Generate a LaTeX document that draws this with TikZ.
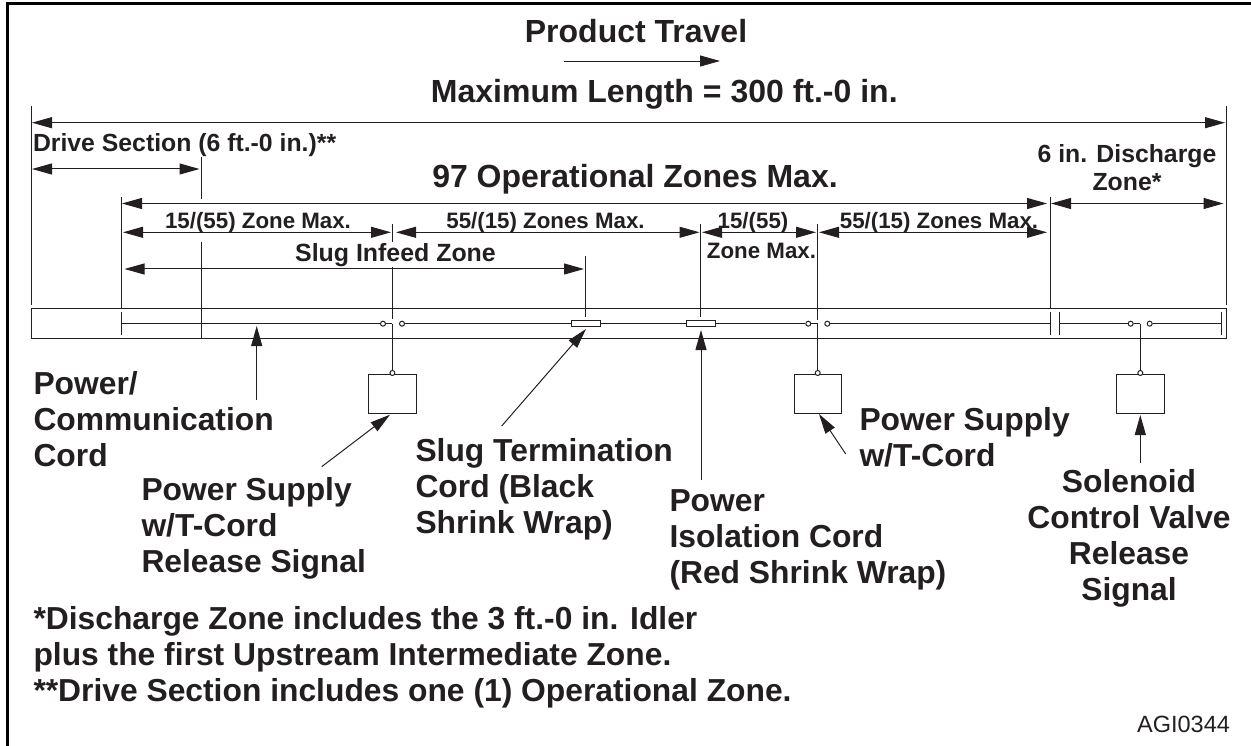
\documentclass[tikz,border=0pt]{standalone}
\usepackage{xcolor}
\usepackage{fontspec}
\setmainfont{Liberation Sans}
\usetikzlibrary{arrows.meta, positioning, calc}
\definecolor{inkblk}{HTML}{231F20}

\begin{document}
\begin{tikzpicture}[x=1pt, y=-1pt, >={Triangle[length=20pt,width=11pt]}, color=inkblk, text=inkblk, line width=1pt]
        \tikzstyle{heading} = [font=\fontsize{32}{36}\bfseries\selectfont, inner sep=0pt]
        \tikzstyle{callout} = [font=\fontsize{31.8}{36}\bfseries\selectfont, inner sep=0pt, align=left, anchor=west]
        \tikzstyle{dimlabel} = [font=\fontsize{22.3}{26}\bfseries\selectfont, inner sep=0pt, align=center]
        \tikzstyle{dim} = [<->]
        \tikzstyle{arrow} = [->]
        \tikzstyle{psubox} = [rectangle, draw, fill=white, minimum width=47.5pt, minimum height=38.5pt, inner sep=0pt]
        \tikzstyle{sleeve} = [rectangle, draw, fill=white, minimum width=29pt, minimum height=5.5pt, inner sep=0pt]
        \tikzstyle{pin} = [circle, draw, fill=white, minimum size=5pt, inner sep=0pt]

        \useasboundingbox (0,0) rectangle (1251,746);

        % Border
        \coordinate (frameBL) at (7.5,746);
        \coordinate (frameTL) at (7.5,3.3);
        \coordinate (frameTR) at (1251,3.3);
        \draw [line width=3pt, black] (frameBL) -- (frameTL) -- (frameTR);

        % Product travel
        \node (travel) [heading] at (636,31) {Product Travel};
        \coordinate (travelL) at (564,61);
        \coordinate (travelR) at (720,61);
        \draw [arrow, line width=.8pt] (travelL) -- (travelR);
        \node (maxlen) [heading] at (664.3,94.5) {Maximum Length = 300 ft.-0 in.};
        \node (drivetxt) [font=\fontsize{24.8}{28}\bfseries\selectfont, inner sep=0pt, anchor=west] at (32.5,145.5) {Drive Section (6 ft.-0 in.)**};
        \node (zonestxt) [heading] at (635,179) {97 Operational Zones Max.};
        \node (dischtxt) [font=\fontsize{24.8}{27.7}\bfseries\selectfont, inner sep=0pt, align=center] at (1127,167.5) {6 in. Discharge\\Zone*};

        % Conveyor bar and cord
        \node (bar) [rectangle, draw, minimum width=1195pt, minimum height=30.7pt, inner sep=0pt] at (628.7,323.4) {};
        \node (sleeveA) [sleeve] at (585.7,323.7) {};
        \node (sleeveB) [sleeve] at (700.7,323.7) {};
        \node (pinAl) [pin] at (383,323.7) {};
        \node (pinAr) [pin] at (402,323.7) {};
        \node (pinBl) [pin] at (808.3,323.7) {};
        \node (pinBr) [pin] at (827.3,323.7) {};
        \node (pinCl) [pin] at (1130.7,323.7) {};
        \node (pinCr) [pin] at (1149.7,323.7) {};
        \coordinate (cordL) at (121,323.7);
        \coordinate (gapL) at (1050.3,323.7);
        \coordinate (gapR) at (1059.7,323.7);
        \coordinate (cordR) at (1221,323.7);
        \coordinate (teeA) at (392.4,323.7);
        \coordinate (teeB) at (817.7,323.7);
        \coordinate (teeC) at (1140.3,323.7);
        \draw (cordL) -- (pinAl);
        \draw (pinAl) -- (teeA);
        \draw (pinAr) -- (sleeveA);
        \draw (sleeveA) -- (sleeveB);
        \draw (sleeveB) -- (pinBl);
        \draw (pinBl) -- (teeB);
        \draw (pinBr) -- (gapL);
        \draw (gapR) -- (pinCl);
        \draw (pinCl) -- (teeC);
        \draw (pinCr) -- (cordR);

        % Power supplies
        \node (psuA) [psubox] at (392.4,394.2) {};
        \node (psuB) [psubox] at (817.9,394.2) {};
        \node (psuC) [psubox] at (1140.4,394.2) {};
        \node (psuApin) [pin] at (392.4,373) {};
        \node (psuBpin) [pin] at (817.7,373) {};
        \node (psuCpin) [pin] at (1140.3,373) {};
        \draw (teeA) -- (psuApin);
        \draw (teeB) -- (psuBpin);
        \draw (teeC) -- (psuCpin);

        % Extension lines
        \coordinate (endLt) at (31,106);
        \coordinate (endLb) at (31,305);
        \coordinate (endRt) at (1226,106);
        \coordinate (endRb) at (1226,305);
        \coordinate (driveT) at (201.5,157);
        \coordinate (driveM) at (201.5,199.5);
        \coordinate (driveN) at (201.5,241.7);
        \coordinate (driveB) at (201.5,338.7);
        \coordinate (opsT) at (121,196.7);
        \coordinate (opsB) at (121,308);
        \coordinate (tickAt) at (121,311.7);
        \coordinate (tickAb) at (121,335.3);
        \coordinate (extAt) at (392.4,224);
        \coordinate (extAm) at (392.4,241.7);
        \coordinate (extAn) at (392.4,266.7);
        \coordinate (extAb) at (392.4,319);
        \coordinate (extSl) at (585.7,256);
        \coordinate (extSb) at (585.7,317);
        \coordinate (extRt) at (700.7,224);
        \coordinate (extRb) at (700.7,317);
        \coordinate (extBt) at (817.7,224);
        \coordinate (extBb) at (817.7,320);
        \coordinate (extDt) at (1050.3,196.7);
        \coordinate (extDb) at (1050.3,308);
        \coordinate (tickBt) at (1050.3,311.7);
        \coordinate (tickBb) at (1050.3,335.3);
        \coordinate (tickCt) at (1059.7,311.7);
        \coordinate (tickCb) at (1059.7,335.3);
        \coordinate (tickDt) at (1221,311.7);
        \coordinate (tickDb) at (1221,335.3);
        \draw (endLt) -- (endLb);
        \draw (endRt) -- (endRb);
        \draw (driveT) -- (driveM);
        \draw (driveN) -- (driveB);
        \draw (opsT) -- (opsB);
        \draw (tickAt) -- (tickAb);
        \draw (extAt) -- (extAm);
        \draw (extAn) -- (extAb);
        \draw (extSl) -- (extSb);
        \draw (extRt) -- (extRb);
        \draw (extBt) -- (extBb);
        \draw (extDt) -- (extDb);
        \draw (tickBt) -- (tickBb);
        \draw (tickCt) -- (tickCb);
        \draw (tickDt) -- (tickDb);

        % Dimension arrows
        \coordinate (fullL) at (32,122.7);
        \coordinate (fullR) at (1225,122.7);
        \coordinate (driveL) at (32,169);
        \coordinate (driveR) at (199.5,169);
        \coordinate (opsL) at (122,203.5);
        \coordinate (opsR) at (1047,203.5);
        \coordinate (dischL) at (1051,203.5);
        \coordinate (dischR) at (1223.5,203.5);
        \coordinate (spanAl) at (123,232.3);
        \coordinate (spanAr) at (391,232.3);
        \coordinate (spanBl) at (396,232.3);
        \coordinate (spanBr) at (699.5,232.3);
        \coordinate (spanCl) at (702,232.3);
        \coordinate (spanCr) at (816,232.3);
        \coordinate (spanDl) at (819,232.3);
        \coordinate (spanDr) at (1047,232.3);
        \coordinate (slugL) at (124.5,269);
        \coordinate (slugR) at (584,269);
        \draw [dim] (fullL) -- (fullR);
        \draw [dim] (driveL) -- (driveR);
        \draw [dim] (opsL) -- (opsR);
        \draw [dim] (dischL) -- (dischR);
        \draw [dim] (spanAl) -- (spanAr);
        \draw [dim] (spanBl) -- (spanBr);
        \draw [dim] (spanCl) -- (spanCr);
        \draw [dim] (spanDl) -- (spanDr);
        \draw [dim] (slugL) -- (slugR);

        % Dimension labels
        \node (spanAtxt) [dimlabel] at (258,222.5) {15/(55) Zone Max.};
        \node (spanBtxt) [dimlabel] at (545.5,222.5) {55/(15) Zones Max.};
        \node (spanCtxt) [dimlabel] at (753,222.5) {15/(55)};
        \node (spanCtxtb) [dimlabel] at (761.5,250.5) {Zone Max.};
        \node (spanDtxt) [dimlabel] at (939,222.5) {55/(15) Zones Max.};
        \node (slugtxt) [dimlabel, font=\fontsize{24.9}{28}\bfseries\selectfont] at (395.5,255) {Slug Infeed Zone};

        % Callouts
        \node (cordtxt) [callout] at (33,419.5) {Power/\\Communication\\Cord};
        \node (psuAtxt) [callout] at (141,528) {Power Supply\\w/T-Cord\\Release Signal};
        \node (slugcord) [callout] at (415,489) {Slug Termination\\Cord (Black\\Shrink Wrap)};
        \node (isotxt) [callout] at (669,540) {Power\\Isolation Cord\\(Red Shrink Wrap)};
        \node (psuBtxt) [callout] at (859,437) {Power Supply\\w/T-Cord};
        \node (soltxt) [callout, align=center, anchor=center] at (1129,538) {Solenoid\\Control Valve\\Release\\Signal};
        \node (notes) [callout] at (33,657) {*Discharge Zone includes the 3 ft.-0 in. Idler\\plus the first Upstream Intermediate Zone.\\**Drive Section includes one (1) Operational Zone.};
        \node (figno) [font=\fontsize{23.5}{26}\selectfont, inner sep=0pt] at (1183.5,724.5) {AGI0344};

        % Callout arrows
        \coordinate (cordA) at (256.7,400);
        \coordinate (cordB) at (256.7,326);
        \coordinate (psuAa) at (321.7,466.7);
        \coordinate (psuAb) at (390,414.7);
        \coordinate (slugA) at (501.7,426);
        \coordinate (slugB) at (586,329);
        \coordinate (isoA) at (701,480);
        \coordinate (isoB) at (701,330);
        \coordinate (psuBa) at (845.7,454);
        \coordinate (psuBb) at (819,414);
        \coordinate (solA) at (1140.3,463);
        \coordinate (solB) at (1140.3,415);
        \draw [arrow] (cordA) -- (cordB);
        \draw [arrow] (psuAa) -- (psuAb);
        \draw [arrow] (slugA) -- (slugB);
        \draw [arrow] (isoA) -- (isoB);
        \draw [arrow] (psuBa) -- (psuBb);
        \draw [arrow] (solA) -- (solB);
    \end{tikzpicture}
\end{document}
